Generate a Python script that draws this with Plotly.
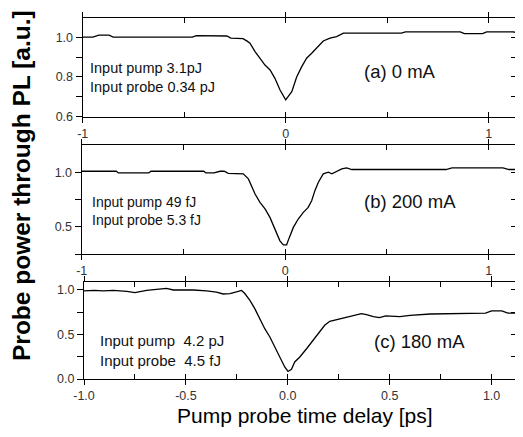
import plotly.graph_objects as go

# ---- Panel (a): 0 mA ----
a_x = [-1.0, -0.95, -0.92, -0.90, -0.87, -0.85, -0.75, -0.6, -0.46, -0.44, -0.35, -0.29, -0.27,
       -0.21, -0.19, -0.176, -0.151, -0.127, -0.102, -0.077, -0.053, -0.028, 0.0, 0.030, 0.054,
       0.079, 0.103, 0.128, 0.153, 0.185, 0.218, 0.251, 0.284, 0.4, 0.57, 0.59, 0.7, 0.86, 0.88,
       0.97, 0.99, 1.05, 1.12, 1.15, 1.17]
a_y = [1.0, 1.0, 1.01, 1.01, 1.01, 1.0, 1.0, 1.0, 1.0, 1.008, 1.008, 1.006, 0.995,
       0.993, 0.98, 0.97, 0.927, 0.894, 0.86, 0.835, 0.793, 0.734, 0.685, 0.726, 0.80,
       0.852, 0.894, 0.919, 0.945, 0.981, 0.995, 1.003, 1.02, 1.02, 1.02, 1.027, 1.027, 1.027, 1.018,
       1.018, 1.027, 1.027, 1.027, 1.02, 1.02]

# ---- Panel (b): 200 mA ----
b_x = [-1.0, -0.83, -0.82, -0.67, -0.66, -0.40, -0.39, -0.35, -0.32, -0.30, -0.28, -0.255, -0.206,
       -0.181, -0.165, -0.148, -0.124, -0.099, -0.075, -0.058, -0.042, -0.026, -0.009, 0.007, 0.020,
       0.040, 0.064, 0.089, 0.113, 0.130, 0.146, 0.163, 0.187, 0.212, 0.229, 0.253, 0.278, 0.302,
       0.327, 0.5, 0.79, 0.82, 1.07, 1.10, 1.17]
b_y = [1.009, 1.009, 0.994, 0.994, 1.009, 1.009, 0.994, 0.994, 1.009, 1.009, 0.99, 0.988, 0.985,
       0.939, 0.877, 0.80, 0.724, 0.663, 0.586, 0.509, 0.433, 0.371, 0.334, 0.334, 0.40,
       0.494, 0.571, 0.632, 0.678, 0.739, 0.831, 0.908, 0.985, 1.0, 0.985, 1.009, 1.031, 1.04,
       1.025, 1.025, 1.025, 1.04, 1.04, 1.025, 1.025]

# ---- Panel (c): 180 mA ----
c_x = [-1.0, -0.95, -0.905, -0.856, -0.79, -0.75, -0.693, -0.627, -0.595, -0.562, -0.464, -0.399,
       -0.35, -0.317, -0.284, -0.252, -0.227, -0.211, -0.186, -0.162, -0.137, -0.113, -0.088,
       -0.064, -0.039, -0.015, 0.001, 0.018, 0.034, 0.059, 0.092, 0.124, 0.157, 0.181, 0.206,
       0.239, 0.288, 0.337, 0.361, 0.386, 0.42, 0.45, 0.48, 0.55, 0.6, 0.7, 0.8, 0.9, 0.97, 1.0,
       1.05, 1.08, 1.17]
c_y = [0.99, 0.995, 0.99, 0.995, 0.985, 0.97, 0.995, 1.008, 1.019, 1.0, 1.0, 0.99,
       0.975, 0.955, 0.96, 0.978, 0.995, 0.96, 0.884, 0.79, 0.678, 0.565, 0.472,
       0.36, 0.247, 0.135, 0.085, 0.109, 0.191, 0.247, 0.34, 0.435, 0.528, 0.603, 0.648,
       0.666, 0.697, 0.722, 0.734, 0.722, 0.70, 0.69, 0.71, 0.70, 0.715, 0.73, 0.735, 0.735, 0.74,
       0.765, 0.765, 0.74, 0.74]

# tick definitions
a_xticks = [-1, 0, 1]; a_xticktext = ["-1", "0", "1"]; a_xminor = [-0.5, 0.5]
a_yticks = [0.6, 0.8, 1.0]; a_yticktext = ["0.6", "0.8", "1.0"]; a_yminor = [0.7, 0.9]
b_xticks = [-1, 0, 1]; b_xticktext = ["-1", "0", "1"]; b_xminor = [-0.5, 0.5]
b_yticks = [0.5, 1.0]; b_yticktext = ["0.5", "1.0"]; b_yminor = [0.25, 0.75]
c_xticks = [-1.0, -0.5, 0.0, 0.5, 1.0]; c_xticktext = ["-1.0", "-0.5", "0.0", "0.5", "1.0"]
c_xminor = [-0.75, -0.25, 0.25, 0.75]
c_yticks = [0.0, 0.5, 1.0]; c_yticktext = ["0.0", "0.5", "1.0"]; c_yminor = [0.25, 0.75]

OFF = 8                      # page body margin
W, H = 523 - 2 * OFF, 437 - 2 * OFF
RIGHT = 523 - OFF            # screen x of the right edge of the figure
FONT = "Arial, Liberation Sans, sans-serif"
TICKFONT = dict(family=FONT, size=12.5, color="#333333")

def px(v):
    return (v - OFF) / W

def py(v):
    return 1 - (v - OFF) / H

panels = [
    dict(x=a_x, y=a_y, left=82.7, top=18.3, bottom=116.7, scale=203.0,
         yr=[0.6, 1.095], xt=a_xticks, xtt=a_xticktext, xm=a_xminor,
         yt=a_yticks, ytt=a_yticktext, ym=a_yminor),
    dict(x=b_x, y=b_y, left=81.7, top=145.0, bottom=254.0, scale=203.5,
         yr=[0.25, 1.25], xt=b_xticks, xtt=b_xticktext, xm=b_xminor,
         yt=b_yticks, ytt=b_yticktext, ym=b_yminor),
    dict(x=c_x, y=c_y, left=84.0, top=281.7, bottom=379.0, scale=203.8,
         yr=[0.0, 1.093], xt=c_xticks, xtt=c_xticktext, xm=c_xminor,
         yt=c_yticks, ytt=c_yticktext, ym=c_yminor),
]

fig = go.Figure()
layout = dict(width=W, height=H, margin=dict(l=0, r=0, t=0, b=0, autoexpand=False),
              paper_bgcolor="white", plot_bgcolor="white", showlegend=False)

for i, p in enumerate(panels):
    k = 2 * i + 1
    ko = 2 * i + 2
    xn = "x" if k == 1 else f"x{k}"
    yn = "y" if k == 1 else f"y{k}"
    xon, yon = f"x{ko}", f"y{ko}"
    xd = [px(p["left"]), 1.0]
    xr = [-1.0, -1.0 + (RIGHT - p["left"]) / p["scale"]]
    yd = [py(p["bottom"]), py(p["top"])]
    fig.add_trace(go.Scatter(x=p["x"], y=p["y"], mode="lines", xaxis=xn, yaxis=yn,
                             line=dict(color="black", width=1.3), hoverinfo="skip"))
    fig.add_trace(go.Scatter(x=p["x"], y=p["y"], mode="lines", xaxis=xon, yaxis=yon,
                             line=dict(color="rgba(0,0,0,0)", width=0), hoverinfo="skip"))
    xkey = "xaxis" if k == 1 else f"xaxis{k}"
    ykey = "yaxis" if k == 1 else f"yaxis{k}"
    layout[xkey] = dict(domain=xd, range=xr, anchor=yn, showgrid=False, zeroline=False,
                        automargin=False,
                        showline=True, linecolor="black", linewidth=1.3, mirror="ticks",
                        ticks="outside", ticklen=5, tickwidth=1.2, tickcolor="black",
                        tickmode="array", tickvals=p["xt"], ticktext=p["xtt"],
                        tickfont=TICKFONT,
                        minor=dict(ticks="inside", ticklen=5, tickwidth=1.2, tickcolor="black",
                                   tickmode="array", tickvals=p["xm"]))
    layout[f"xaxis{ko}"] = dict(domain=xd, range=xr, anchor=yn, overlaying=xn, automargin=False,
                                side="bottom", showgrid=False, zeroline=False, showline=False,
                                mirror="ticks", ticks="inside", ticklen=5, tickwidth=1.2,
                                tickcolor="black", tickmode="array", tickvals=p["xt"],
                                showticklabels=False)
    layout[ykey] = dict(domain=yd, range=p["yr"], anchor=xn, showgrid=False, zeroline=False,
                        automargin=False,
                        showline=True, linecolor="black", linewidth=1.3, mirror=False,
                        ticks="outside", ticklen=6, tickwidth=1.2, tickcolor="black",
                        tickmode="array", tickvals=p["yt"], ticktext=p["ytt"],
                        tickfont=TICKFONT,
                        minor=dict(ticks="outside", ticklen=6, tickwidth=1.2, tickcolor="black",
                                   tickmode="array", tickvals=p["ym"]))
    layout[f"yaxis{ko}"] = dict(domain=yd, range=p["yr"], anchor=xn, overlaying=yn,
                                automargin=False,
                                side="right", showgrid=False, zeroline=False, showline=False,
                                ticks="inside", ticklen=4, tickwidth=1.2, tickcolor="black",
                                tickmode="array", tickvals=p["yt"] + p["ym"],
                                showticklabels=False)

fig.update_layout(**layout)

def note(text, x, y, xr, yr, size):
    fig.add_annotation(text=text, x=x, y=y, xref=xr, yref=yr, showarrow=False,
                       xanchor="left", yanchor="middle", align="left",
                       font=dict(family=FONT, size=size, color="#111111"))

# panel (a)
note("Input pump 3.1pJ<br>Input probe 0.34 pJ", -0.975, 0.796, "x", "y", 14.5)
note("(a) 0 mA", 0.376, 0.827, "x", "y", 18.5)
# panel (b)
note("Input pump 49 fJ<br>Input probe 5.3 fJ", -0.96, 0.646, "x3", "y3", 14)
note("(b) 200 mA", 0.378, 0.730, "x3", "y3", 18.5)
# panel (c)
note("Input pump  4.2 pJ<br>Input probe  4.5 fJ", -0.933, 0.316, "x5", "y5", 15)
note("(c) 180 mA", 0.412, 0.419, "x5", "y5", 18.5)

# axis titles
fig.add_annotation(text="Probe power through PL [a.u.]", x=px(21), y=py(186),
                   xref="paper", yref="paper", showarrow=False, textangle=-90,
                   xanchor="center", yanchor="middle",
                   font=dict(family=FONT, size=24.5, color="black", weight="bold"))
fig.add_annotation(text="Pump probe time delay [ps]", x=px(305), y=py(415.5),
                   xref="paper", yref="paper", showarrow=False,
                   xanchor="center", yanchor="middle",
                   font=dict(family=FONT, size=21, color="black"))

fig.write_html("out.html")
